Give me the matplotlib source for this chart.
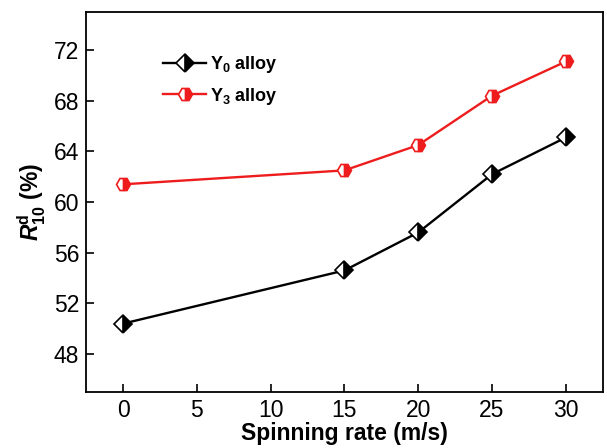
import matplotlib.pyplot as plt

plt.rcParams['font.family'] = ['Liberation Sans', 'DejaVu Sans']
plt.rcParams['mathtext.fontset'] = 'custom'
plt.rcParams['mathtext.rm'] = 'Liberation Sans'
plt.rcParams['mathtext.it'] = 'Liberation Sans:italic'
plt.rcParams['mathtext.bf'] = 'Liberation Sans:bold'
plt.rcParams['mathtext.bfit'] = 'Liberation Sans:bold:italic'

rate = [0, 15, 20, 25, 30]
y0_alloy = [50.4, 54.6, 57.6, 62.2, 65.1]
y3_alloy = [61.4, 62.5, 64.5, 68.4, 71.1]

fig = plt.figure(figsize=(6.07, 4.48), dpi=100)
ax = fig.add_axes([0.142, 0.125, 0.851, 0.848])

ax.plot(rate, y0_alloy, color='black', lw=1.7, marker='D', ms=9, fillstyle='right',
        markerfacecolor='black', markerfacecoloralt='white', markeredgecolor='black',
        markeredgewidth=1.2, label=r'Y$_\mathbf{0}$ alloy')
ax.plot(rate, y3_alloy, color='#ee1c1c', lw=1.7, marker='H', ms=10, fillstyle='right',
        markerfacecolor='#ee1c1c', markerfacecoloralt='white', markeredgecolor='#ee1c1c',
        markeredgewidth=1.2, label=r'Y$_\mathbf{3}$ alloy')

ax.set_xlim(-2.5, 32.5)
ax.set_ylim(45, 75)
ax.set_xticks(range(0, 31, 5))
ax.set_yticks(range(48, 73, 4))
ax.tick_params(direction='in', length=6, width=1.2, labelsize=16.5,
               top=False, right=False, pad=5)
for s in ax.spines.values():
    s.set_linewidth(1.3)

ax.set_xlabel('Spinning rate (m/s)', fontsize=16.5, fontweight='bold', labelpad=0)
ax.set_ylabel(r'$\mathbfit{R}^{\mathbf{d}}_{\mathbf{10}}$ (%)', fontsize=16.5,
              fontweight='bold', labelpad=4)

leg = ax.legend(loc='upper left', bbox_to_anchor=(0.149, 0.89), frameon=False,
                prop={'weight': 'bold', 'size': 13}, handlelength=2.4,
                handletextpad=0.2, labelspacing=0.6, borderpad=0, borderaxespad=0)

fig.savefig('out.png', dpi=100)
